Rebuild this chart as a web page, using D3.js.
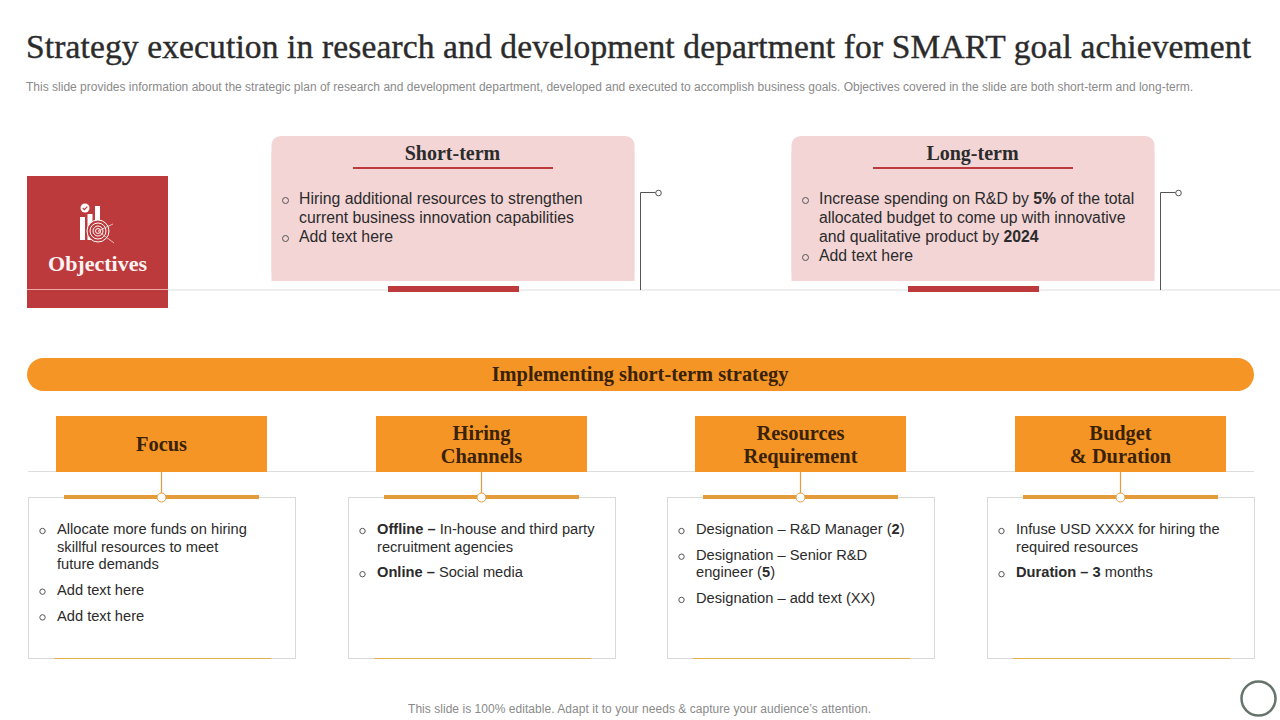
<!DOCTYPE html>
<html><head><meta charset="utf-8">
<script src="https://cdn.jsdelivr.net/npm/d3@7"></script>
<style>html,body{margin:0;padding:0;background:#fff}svg{display:block}</style>
</head><body><div id="c"></div>
<script>
const titleText = "Strategy execution in research and development department for SMART goal achievement";
const subtitleText = "This slide provides information about the strategic plan of research and development department, developed and executed to  accomplish business goals. Objectives covered in the slide are both short-term and long-term.";
const footerText = "This slide is 100% editable. Adapt it to your needs & capture your audience’s attention.";
const objectivesLabel = "Objectives";
const bannerLabel = "Implementing short-term strategy";
const termTitles = ["Short-term", "Long-term"];
const termItems = [
  [[[["Hiring additional resources to strengthen",0]],[["current business innovation capabilities",0]]],[[["Add text here",0]]]],
  [[[["Increase spending on R&D by ",0],["5%",1],[" of the total",0]],[["allocated budget to come up with innovative",0]],[["and qualitative product by ",0],["2024",1]]],[[["Add text here",0]]]]
];
const columnTitles = [["Focus"],["Hiring","Channels"],["Resources","Requirement"],["Budget","& Duration"]];
const columnItems = [
  [[[["Allocate more funds on hiring",0]],[["skillful resources to meet",0]],[["future demands",0]]],[[["Add text here",0]]],[[["Add text here",0]]]],
  [[[["Offline – ",1],["In-house and third party",0]],[["recruitment agencies",0]]],[[["Online – ",1],["Social media",0]]]],
  [[[["Designation – R&D Manager (",0],["2",1],[")",0]]],[[["Designation – Senior R&D",0]],[["engineer (",0],["5",1],[")",0]]],[[["Designation – add text (XX)",0]]]],
  [[[["Infuse USD XXXX for hiring the",0]],[["required resources",0]]],[[["Duration – 3",1],[" months",0]]]]
];

const RED="#bc3a3c", PINK="#f3d5d6", ORANGE="#f59525", GOLD="#e49b3c", RULE="#dddddd", DARK="#2b2b2b";
const SERIF="'Liberation Serif',serif", SANS="'Liberation Sans',Arial,sans-serif";
const svg=d3.select("#c").append("svg").attr("width",1280).attr("height",720).attr("viewBox","0 0 1280 720");

svg.append("text").attr("x",26).attr("y",58).attr("font-family",SERIF).attr("font-size",33.5).attr("fill",DARK)
  .attr("stroke",DARK).attr("stroke-width",0.4)
  .attr("textLength",1225).attr("lengthAdjust","spacing").text(titleText);
svg.append("text").attr("x",26).attr("y",91).attr("font-family",SANS).attr("font-size",12).attr("fill","#8a8a8a")
  .attr("textLength",1167).attr("lengthAdjust","spacing").text(subtitleText);
svg.append("text").attr("x",639.5).attr("y",713).attr("text-anchor","middle").attr("font-family",SANS).attr("font-size",12).attr("fill","#8a8a8a")
  .attr("textLength",463).attr("lengthAdjust","spacing").text(footerText);
svg.append("circle").attr("cx",1258.5).attr("cy",698.5).attr("r",17).attr("fill","#fff").attr("stroke","#66746c").attr("stroke-width",2.5);

// list renderer
function drawList(g,items,o){
  let y=o.y;
  items.forEach(par=>{
    g.append("circle").attr("cx",o.bx).attr("cy",y+o.bdy).attr("r",o.br).attr("fill","none").attr("stroke","#555").attr("stroke-width",1);
    par.forEach((line,i)=>{
      const t=g.append("text").attr("x",o.tx).attr("y",y+o.fs*0.35).attr("font-family",SANS).attr("font-size",o.fs).attr("fill",DARK).attr("xml:space","preserve");
      t.selectAll("tspan").data(line).join("tspan").attr("font-weight",d=>d[1]?700:400).text(d=>d[0]);
      if(i<par.length-1) y+=o.lh;
    });
    y+=o.lh+o.gap;
  });
}

// Objectives
svg.append("line").attr("x1",168).attr("x2",1280).attr("y1",290).attr("y2",290).attr("stroke",RULE);
svg.append("rect").attr("x",27).attr("y",176).attr("width",141).attr("height",132).attr("fill",RED);
svg.append("line").attr("x1",27).attr("x2",168).attr("y1",289.5).attr("y2",289.5).attr("stroke","#f0a9a9");
svg.append("text").attr("x",97.5).attr("y",271).attr("text-anchor","middle").attr("font-family",SERIF).attr("font-weight",700).attr("font-size",22).attr("fill","#fdf3f3").text(objectivesLabel);
// icon
const ic=svg.append("g").attr("fill","#fff");
ic.append("rect").attr("x",80).attr("y",217).attr("width",5).attr("height",23);
ic.append("rect").attr("x",87.5).attr("y",214).attr("width",5).attr("height",26);
ic.append("rect").attr("x",95).attr("y",206).attr("width",5).attr("height",30);
ic.append("circle").attr("cx",85).attr("cy",208).attr("r",4.5);
ic.append("path").attr("d","M82.8 208l1.6 1.7 2.9-3").attr("fill","none").attr("stroke",RED).attr("stroke-width",1.2);
[11,8,5,2.5].forEach(r=>ic.append("circle").attr("cx",98).attr("cy",231).attr("r",r).attr("fill",RED).attr("stroke","#fff").attr("stroke-width",1));
ic.append("path").attr("d","M98 231L114 243M98 231L113 224").attr("stroke","#f6dcdc").attr("stroke-width",.8).attr("fill","none");

// term cards
const termX=d3.scaleOrdinal().domain(termTitles).range([271.5,791.5]);
termTitles.forEach((name,i)=>{
  const x=termX(name), g=svg.append("g").attr("transform",`translate(${x},0)`);
  g.append("rect").attr("y",136).attr("width",363).attr("height",145).attr("rx",9).attr("fill",PINK);
  g.append("rect").attr("y",152).attr("width",363).attr("height",129).attr("fill",PINK);
  g.append("text").attr("x",181).attr("y",160).attr("text-anchor","middle").attr("font-family",SERIF).attr("font-weight",700).attr("font-size",20).attr("fill",DARK).text(name);
  g.append("line").attr("x1",81.5).attr("x2",281.5).attr("y1",168).attr("y2",168).attr("stroke",RED).attr("stroke-width",2);
  g.append("rect").attr("x",116.5).attr("y",286).attr("width",131).attr("height",6).attr("fill",RED);
  g.append("path").attr("d","M369 290V192.5H384").attr("fill","none").attr("stroke","#555").attr("stroke-width",1);
  g.append("circle").attr("cx",387).attr("cy",193).attr("r",2.8).attr("fill","#fff").attr("stroke","#555").attr("stroke-width",1);
  drawList(g,termItems[i],{y:198.5,bx:14,br:3,bdy:2,tx:27.5,fs:15.8,lh:19,gap:0});
});

// banner
svg.append("rect").attr("x",27).attr("y",358).attr("width",1227).attr("height",33).attr("rx",16.5).attr("fill",ORANGE);
svg.append("text").attr("x",640).attr("y",381).attr("text-anchor","middle").attr("font-family",SERIF).attr("font-weight",700).attr("font-size",20.4).attr("fill","#3a2206").text(bannerLabel);

// columns
svg.append("line").attr("x1",28).attr("x2",1254).attr("y1",471.5).attr("y2",471.5).attr("stroke",RULE);
const colX=d3.scalePoint().domain(d3.range(4)).range([28,987]).round(false);
columnTitles.forEach((lines,i)=>{
  const g=svg.append("g").attr("transform",`translate(${Math.round(colX(i))},0)`);
  g.append("rect").attr("x",28).attr("y",416).attr("width",211).attr("height",56).attr("fill",ORANGE);
  const tg=g.append("text").attr("text-anchor","middle").attr("font-family",SERIF).attr("font-weight",700).attr("font-size",20.4).attr("fill","#3a2206");
  lines.forEach((s,k)=>tg.append("tspan").attr("x",133.5).attr("y",(lines.length===1?451:440)+k*23).text(s));
  g.append("rect").attr("x",0.5).attr("y",497.5).attr("width",267).attr("height",161).attr("fill","#fff").attr("stroke","#d9d9d9");
  g.append("rect").attr("x",36).attr("y",495).attr("width",195).attr("height",4).attr("fill",GOLD);
  g.append("line").attr("x1",133.5).attr("x2",133.5).attr("y1",472).attr("y2",497).attr("stroke",GOLD).attr("stroke-width",1.2);
  g.append("circle").attr("cx",133.5).attr("cy",497.5).attr("r",4.5).attr("fill","#fff").attr("stroke",GOLD).attr("stroke-width",1);
  g.append("line").attr("x1",26).attr("x2",243).attr("y1",658.5).attr("y2",658.5).attr("stroke","#e3b04c").attr("stroke-width",1.2);
  drawList(g,columnItems[i],{y:529,bx:14.5,br:2.7,bdy:2,tx:29,fs:14.67,lh:17.5,gap:8.2});
});
</script></body></html>
